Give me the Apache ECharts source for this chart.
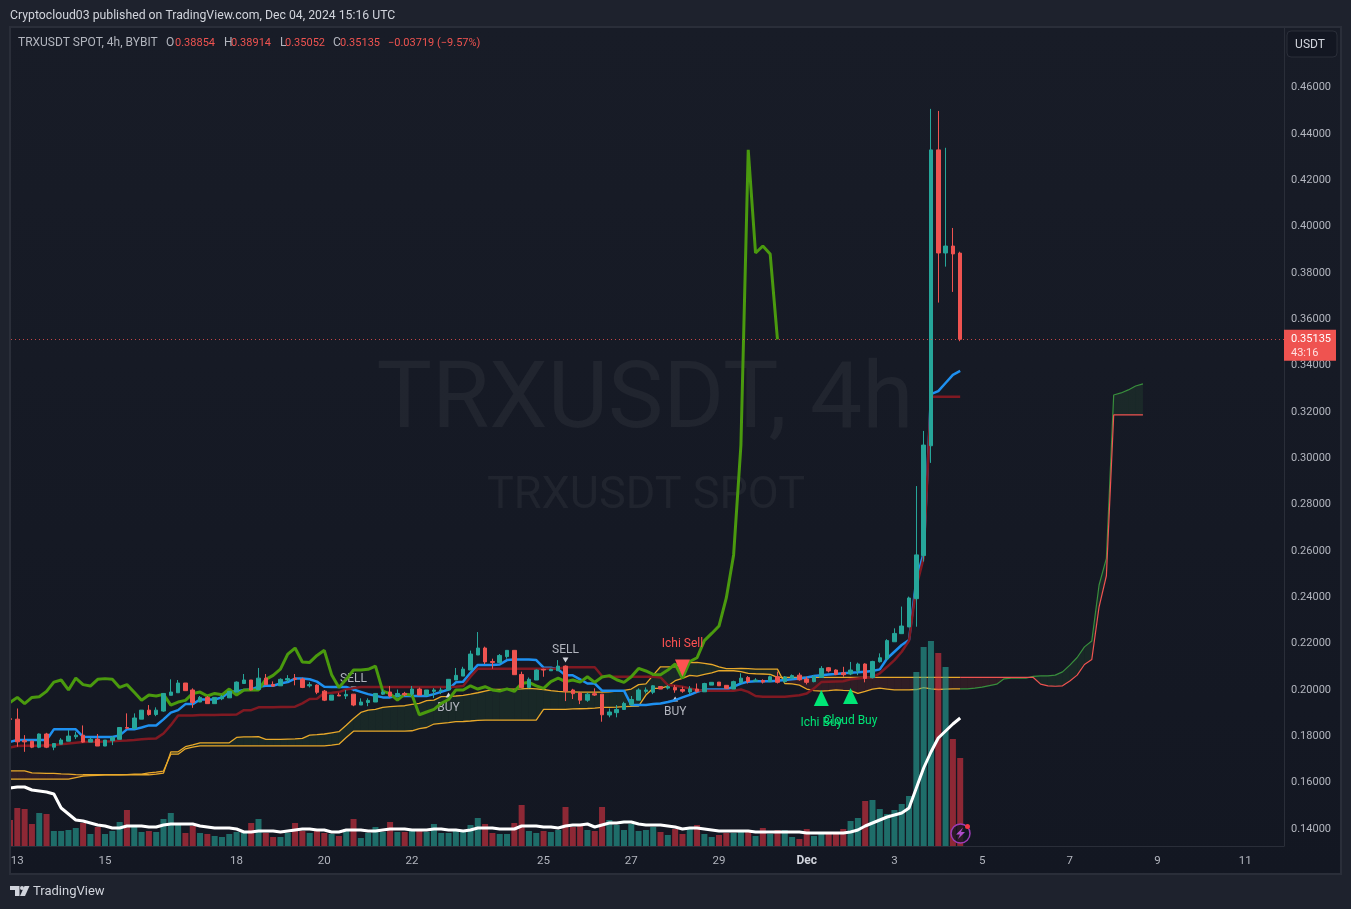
<!DOCTYPE html>
<html>
<head>
<meta charset="utf-8">
<title>TRXUSDT SPOT, 4h</title>
<script src="https://cdn.jsdelivr.net/npm/echarts@6/dist/echarts.min.js"></script>
<style>
  html, body { margin: 0; padding: 0; background: #1e222d; }
  #main { width: 1351px; height: 909px; }
</style>
</head>
<body>
<div id="main"></div>
<script>
// candles, ten to a row, bar 0 sits half hidden on the left edge
const opens = [
  .1876,.1874,.1781,.1779,.1753,.1810,.1753,.1766,.1779,.1798,
  .1805,.1775,.1788,.1758,.1781,.1787,.1838,.1834,.1874,.1913,
  .1894,.1909,.1977,.1988,.2030,.2000,.1948,.1968,.1941,.1962,
  .1966,.1991,.2028,.2043,.2002,.2051,.2024,.2018,.2043,.2050,
  .2047,.2018,.2021,.1995,.1956,.1978,.1974,.1982,.1935,.1946,
  .1948,.1982,.1991,.1974,.1985,.1982,.2004,.1977,.1994,.1997,
  .2000,.2043,.2060,.2086,.2151,.2181,.2123,.2118,.2144,.2171,
  .2067,.2011,.2043,.2089,.2083,.2083,.2103,.2000,.1987,.1956,
  .1984,.1982,.1892,.1902,.1916,.1936,.1956,.1994,.1990,.2015,
  .2008,.2011,.2002,.1991,.2004,.1992,.2021,.2034,.2020,.2004,
  .2031,.2054,.2038,.2041,.2036,.2057,.2036,.2051,.2064,.2047,
  .2036,.2054,.2096,.2086,.2074,.2069,.2083,.2112,.2053,.2122,
  .2134,.2208,.2243,.2272,.2394,.2580,.3054,.4331,.3886,.3916,.38854
];
const closes = [
  .1873,.1776,.1776,.1753,.1810,.1753,.1769,.1784,.1801,.1805,
  .1775,.1787,.1758,.1784,.1795,.1838,.1835,.1879,.1913,.1894,
  .1913,.1985,.1991,.2030,.1997,.1946,.1968,.1941,.1968,.1971,
  .1994,.2034,.2043,.2000,.2051,.2023,.2017,.2046,.2049,.2046,
  .2011,.2023,.1990,.1956,.1978,.1974,.1981,.1935,.1948,.1955,
  .1985,.1991,.1974,.1985,.1979,.2004,.1978,.2000,.2000,.2000,
  .2046,.2063,.2090,.2155,.2181,.2121,.2119,.2149,.2171,.2066,
  .2011,.2046,.2086,.2086,.2089,.2103,.1995,.1984,.1956,.1982,
  .1978,.1893,.1905,.1916,.1942,.1959,.2000,.2000,.2018,.2004,
  .2014,.2000,.1995,.2005,.1994,.2028,.2033,.2018,.2007,.2036,
  .2051,.2036,.2043,.2034,.2057,.2033,.2056,.2062,.2044,.2033,
  .2057,.2093,.2082,.2067,.2066,.2086,.2112,.2050,.2123,.2139,
  .2213,.2244,.2276,.2397,.2583,.3057,.4331,.3886,.3916,.3882,.35135
];
const lows = [
  .1848,.1755,.1733,.1749,.1749,.1749,.1740,.1766,.1779,.1788,
  .1772,.1775,.1758,.1758,.1762,.1787,.1834,.1831,.1874,.1889,
  .1887,.1906,.1977,.1988,.1997,.1923,.1948,.1941,.1941,.1956,
  .1966,.1991,.2026,.1997,.2000,.2021,.2014,.2018,.2034,.2020,
  .2008,.2011,.1982,.1952,.1956,.1974,.1961,.1930,.1935,.1930,
  .1948,.1978,.1968,.1968,.1974,.1974,.1978,.1977,.1965,.1982,
  .1997,.2043,.2060,.2086,.2151,.2112,.2092,.2118,.2135,.2066,
  .2007,.2007,.2043,.2057,.2083,.2083,.1952,.1961,.1939,.1949,
  .1974,.1863,.1882,.1882,.1916,.1936,.1956,.1985,.1982,.2004,
  .2002,.1988,.1988,.1982,.1988,.1992,.2021,.2018,.2007,.2004,
  .2031,.2028,.2038,.2028,.2036,.2028,.2031,.2051,.2040,.2024,
  .2033,.2054,.2076,.2064,.2057,.2064,.2064,.2033,.2050,.2118,
  .2134,.2208,.2243,.2272,.2273,.2554,.2980,.3672,.3827,.3718,.35052
];
const highs = [
  .1902,.1920,.1805,.1781,.1812,.1815,.1769,.1792,.1827,.1820,
  .1847,.1795,.1810,.1784,.1801,.1838,.1899,.1899,.1913,.1935,
  .1925,.1985,.2046,.2043,.2030,.2007,.1974,.1974,.1968,.1978,
  .1994,.2037,.2069,.2043,.2095,.2069,.2037,.2050,.2064,.2069,
  .2053,.2034,.2024,.2000,.1978,.1988,.2000,.1982,.1964,.1964,
  .1985,.2002,.2017,.2002,.1992,.2017,.2010,.2000,.2008,.2010,
  .2046,.2095,.2100,.2170,.2250,.2187,.2135,.2155,.2171,.2171,
  .2079,.2054,.2089,.2092,.2092,.2129,.2106,.2005,.1992,.1988,
  .2007,.1982,.1920,.1935,.1949,.1974,.2007,.2011,.2021,.2015,
  .2021,.2021,.2014,.2017,.2028,.2031,.2033,.2034,.2020,.2040,
  .2072,.2060,.2051,.2046,.2062,.2079,.2060,.2067,.2074,.2057,
  .2064,.2103,.2099,.2089,.2100,.2121,.2118,.2115,.2126,.2158,
  .2219,.2266,.2360,.2403,.2880,.3118,.4508,.4499,.4340,.3994,.38914
];
const volumes = [
  26,38,37,22,33,32,15,15,16,18,
  23,12,19,12,15,24,36,19,14,15,
  14,27,33,21,13,20,13,12,10,9,
  12,14,13,23,27,13,9,9,13,23,
  15,13,16,13,12,10,17,27,8,13,
  19,14,24,14,14,16,16,14,22,13,
  13,15,14,21,28,22,13,12,12,23,
  41,15,13,15,14,16,39,19,21,16,
  15,39,26,21,16,22,15,16,19,14,
  11,17,12,19,21,12,9,11,13,13,
  16,16,10,18,12,16,16,9,7,17,
  10,12,13,13,17,25,28,45,46,37,
  32,36,42,50,174,199,205,193,179,107,88
];
const volumeAverage = [
  58,59,59,56,55,54,52,38,32,26,
  25,23,21,20,18,18,20,20,20,19,
  19,21,22,22,22,22,20,19,18,18,
  18,17,14,14,15,15,15,14,15,16,
  17,17,16,16,14,14,16,16,16,15,
  15,16,17,17,17,16,16,16,17,17,
  16,16,15,16,18,18,18,17,17,17,
  20,20,20,19,19,18,20,21,21,22,
  19,21,23,23,24,24,22,21,21,21,
  20,19,17,18,18,17,16,15,15,15,
  15,15,14,14,14,14,14,14,14,13,
  13,13,13,13,13,14,16,20,23,26,
  29,31,33,38,58,78,94,108,115,122,128
];

// ichimoku lines
const conversionLine = [
  .1776,.1784,.1784,.1784,.1784,.1784,.1830,.1830,.1830,.1830,
  .1798,.1797,.1797,.1797,.1797,.1804,.1830,.1830,.1838,.1847,
  .1847,.1873,.1902,.1913,.1939,.1939,.1959,.1959,.1959,.1968,
  .1991,.1994,.2000,.2002,.2014,.2018,.2018,.2028,.2034,.2049,
  .2049,.2046,.2036,.2014,.2013,.2013,.2013,.2002,.1992,.1982,
  .1975,.1968,.1968,.1974,.1974,.1974,.1974,.1974,.1982,.1992,
  .2002,.2033,.2036,.2074,.2108,.2108,.2108,.2110,.2129,.2132,
  .2132,.2132,.2129,.2096,.2096,.2089,.2063,.2063,.2046,.2028,
  .2028,.1997,.1997,.1997,.1997,.1935,.1935,.1935,.1939,.1942,
  .1948,.1956,.1968,.1979,.1992,.2002,.2002,.2002,.2002,.2014,
  .2028,.2036,.2038,.2038,.2038,.2040,.2043,.2046,.2050,.2054,
  .2060,.2064,.2067,.2069,.2072,.2074,.2076,.2079,.2082,.2089,
  .2136,.2165,.2194,.2216,.2475,.2591,.3277,.3290,.3325,.3360,.3377
];
const baseLine = [
  .1752,.1758,.1759,.1759,.1759,.1761,.1763,.1766,.1769,.1772,
  .1775,.1776,.1776,.1778,.1779,.1781,.1782,.1784,.1787,.1789,
  .1791,.1812,.1848,.1890,.1890,.1890,.1892,.1892,.1892,.1893,
  .1893,.1894,.1913,.1913,.1925,.1925,.1925,.1926,.1926,.1928,
  .1942,.1961,.1962,.1987,.1988,.1991,.2002,.2008,.2013,.2013,
  .2013,.2013,.2013,.2013,.2013,.2013,.2013,.2013,.2013,.2013,
  .2013,.2014,.2017,.2057,.2092,.2092,.2092,.2092,.2092,.2092,
  .2092,.2092,.2092,.2092,.2092,.2092,.2098,.2098,.2098,.2098,
  .2098,.2060,.2057,.2057,.2057,.2057,.2057,.2057,.2057,.2054,
  .2021,.2018,.2014,.2007,.2000,.1997,.1997,.1997,.1997,.1997,
  .2002,.1992,.1974,.1971,.1971,.1971,.1971,.1974,.1977,.1985,
  .2007,.2034,.2036,.2037,.2038,.2046,.2050,.2053,.2054,.2072,
  .2100,.2129,.2165,.2213,.2446,.2570,.3265,.3265,.3265,.3265,.3265
];
const spanA = [
  .1615,.1615,.1615,.1615,.1615,.1615,.1615,.1615,.1615,.1622,
  .1628,.1630,.1632,.1634,.1634,.1634,.1634,.1634,.1634,.1634,
  .1637,.1641,.1733,.1733,.1755,.1763,.1772,.1772,.1772,.1772,
  .1772,.1795,.1798,.1798,.1799,.1787,.1787,.1787,.1788,.1789,
  .1791,.1805,.1807,.1810,.1815,.1820,.1848,.1877,.1903,.1913,
  .1916,.1925,.1928,.1930,.1932,.1938,.1942,.1954,.1956,.1971,
  .1972,.1974,.1977,.1982,.1988,.1995,.2002,.2002,.2004,.2004,
  .2005,.2007,.2005,.2002,.1997,.1994,.1992,.1992,.1991,.1991,
  .1991,.1991,.1992,.1995,.1998,.2004,.2023,.2026,.2064,.2100,
  .2100,.2100,.2115,.2118,.2119,.2115,.2110,.2100,.2092,.2092,
  .2093,.2092,.2090,.2090,.2090,.2090,.2028,.2026,.2021,.2004,
  .1997,.1995,.1997,.2000,.1998,.1997,.1985,.1994,.2004,.2008,
  .2004,.2000,.2000,.2000,.2002,.2010,.2005,.2002,.2004,.2005,.2005,
  .2005,.2008,.2012,.2019,.2025,.2048,.2051,.2051,.2051,.2059,
  .2061,.2061,.2064,.2078,.2107,.2140,.2186,.2211,.2453,.2568,
  .3273,.3282,.3295,.3312,.3321
];
const spanB = [
  .1651,.1651,.1651,.1642,.1641,.1640,.1640,.1638,.1637,.1635,
  .1634,.1634,.1634,.1634,.1634,.1634,.1635,.1637,.1637,.1642,
  .1645,.1650,.1723,.1723,.1746,.1753,.1759,.1759,.1759,.1759,
  .1759,.1759,.1759,.1759,.1759,.1759,.1759,.1759,.1759,.1759,
  .1759,.1759,.1759,.1759,.1762,.1766,.1795,.1822,.1822,.1822,
  .1822,.1822,.1822,.1822,.1822,.1824,.1833,.1838,.1853,.1856,
  .1859,.1863,.1864,.1866,.1869,.1870,.1870,.1870,.1870,.1870,
  .1870,.1870,.1870,.1916,.1916,.1916,.1916,.1918,.1919,.1920,
  .1922,.1925,.1925,.1926,.1928,.1929,.1930,.1978,.2007,.2007,
  .2017,.2040,.2050,.2063,.2060,.2067,.2074,.2083,.2083,.2083,
  .2079,.2072,.2070,.2069,.2067,.2054,.2054,.2054,.2054,.2054,
  .2054,.2054,.2054,.2054,.2054,.2054,.2054,.2054,.2054,.2054,
  .2054,.2054,.2054,.2054,.2054,.2054,.2054,.2054,.2054,.2054,.2054,
  .2054,.2054,.2054,.2054,.2054,.2054,.2054,.2054,.2054,.2054,
  .2025,.2018,.2016,.2018,.2039,.2064,.2110,.2131,.2359,.2493,
  .3187,.3187,.3187,.3187,.3187
];
const laggingShift = 25; // lagging span is the close moved back this many bars

// signals on the chart
const signalBars = [47, 60, 76, 91, 92, 111, 115];
const signalPrices = [.2004, .1978, .2129, .1961, .2095, .1965, .1974];
const signalTexts = ['SELL', 'BUY', 'SELL', 'BUY', 'Ichi Sell', 'Ichi Buy', 'Cloud Buy'];
const signalKinds = ['sell', 'buy', 'sell', 'buy', 'ichiSell', 'ichiBuy', 'ichiBuy'];

// axes
const priceTicks = [.14, .16, .18, .20, .22, .24, .26, .28, .30, .32, .34, .36, .38, .40, .42, .44, .46];
const dayTicks = [1, 13, 31, 43, 55, 73, 85, 97, 109, 121, 133, 145, 157, 169];
const dayLabels = ['13', '15', '18', '20', '22', '25', '27', '29', 'Dec', '3', '5', '7', '9', '11'];
const lastPrice = 0.35135;

const upColor = '#26a69a';
const downColor = '#ef5350';
const textColor = '#b2b5be';
const frameColor = '#2a2e39';
const pageColor = '#1e222d';
const uiFont = 'Roboto';

const lastPast = opens.length - 1;
const pairs = (values, from = 0) => values.map((v, k) => [k + from, v]);

// fill between the two spans, one quad per bar, coloured by which span is on top
const renderCloud = (params, api) => {
  const k = params.dataIndex;
  if (k >= spanA.length - 1) return null;
  const corners = [
    [k, spanA[k]], [k + 1, spanA[k + 1]],
    [k + 1, spanB[k + 1]], [k, spanB[k]],
  ];
  const isUp = spanA[k] + spanA[k + 1] >= spanB[k] + spanB[k + 1];
  return {
    type: 'polygon',
    shape: { points: corners.map((c) => api.coord(c)) },
    style: { fill: isUp ? 'rgba(67,160,71,0.12)' : 'rgba(244,67,54,0.12)' },
  };
};

const plainLine = (data, color, width, z) => ({
  type: 'line',
  data,
  z,
  silent: true,
  symbol: 'none',
  lineStyle: { color, width },
});

const signalStyles = {
  sell: { symbolSize: [6, 5], rotate: 180, color: '#d1d4dc', labelColor: textColor, position: 'top', distance: 2, z: 2 },
  buy: { symbolSize: [6, 5], rotate: 0, color: '#d1d4dc', labelColor: textColor, position: 'bottom', distance: 4, z: 2 },
  ichiSell: { symbolSize: [15, 17], rotate: 180, color: '#ff5252', labelColor: '#ff5252', position: 'top', distance: 9, z: 6 },
  ichiBuy: { symbolSize: [15, 16], rotate: 0, color: '#00e676', labelColor: '#00e676', position: 'bottom', distance: 11, z: 6 },
};

const signalSeries = signalBars.map((bar, k) => {
  const style = signalStyles[signalKinds[k]];
  return {
    type: 'scatter',
    data: [[bar, signalPrices[k]]],
    z: style.z,
    silent: true,
    symbol: 'triangle',
    symbolSize: style.symbolSize,
    symbolRotate: style.rotate,
    itemStyle: { color: style.color, opacity: 1 },
    label: {
      show: true,
      formatter: signalTexts[k],
      position: style.position,
      distance: style.distance,
      color: style.labelColor,
      fontFamily: uiFont,
      fontSize: 12,
    },
  };
});

// header figures, the numbers run narrower than the words
const headerParts = [
  ['TRXUSDT SPOT, 4h, BYBIT', 18, textColor, 12],
  ['O', 166, textColor, 12], ['0.38854', 175, downColor, 11],
  ['H', 224, textColor, 12], ['0.38914', 231, downColor, 11],
  ['L', 280, textColor, 12], ['0.35052', 285, downColor, 11],
  ['C', 333, textColor, 12], ['0.35135', 340, downColor, 11],
  ['\u22120.03719 (\u22129.57%)', 388, downColor, 11],
];

const headerText = headerParts.map(([text, x, color, size]) => ({
  type: 'text',
  z: 100,
  x,
  y: 43,
  style: { text, fill: color, font: `${size}px ${uiFont}`, textVerticalAlign: 'middle' },
}));

const decorations = [
  // page panel behind the plot
  {
    type: 'rect',
    z: -1,
    shape: { x: 10, y: 27, width: 1331, height: 847 },
    style: {
      stroke: frameColor,
      lineWidth: 2,
      fill: {
        type: 'linear', x: 0, y: 0, x2: 0, y2: 1,
        colorStops: [{ offset: 0, color: '#181c27' }, { offset: 1, color: '#131722' }],
      },
    },
  },
  // bar 0 pokes past the plot edge, cover it with page colour and redraw the frame
  {
    type: 'rect', z: 99,
    shape: { x: 0, y: 700, width: 10, height: 174 },
    style: { fill: pageColor },
  },
  {
    type: 'rect', z: 99,
    shape: { x: 9, y: 700, width: 2, height: 174 },
    style: { fill: frameColor },
  },
  {
    type: 'text', z: 100, x: 10, y: 16,
    style: { text: 'Cryptocloud03 published on TradingView.com, Dec 04, 2024 15:16 UTC', fill: '#d1d4dc', font: `12.25px ${uiFont}`, textVerticalAlign: 'middle' },
  },
  // watermark
  {
    type: 'text', z: 0, x: 645, y: 404,
    style: { text: 'TRXUSDT, 4h', fill: 'rgba(178,181,190,0.07)', font: `93px ${uiFont}`, textAlign: 'center', textVerticalAlign: 'middle' },
  },
  {
    type: 'text', z: 0, x: 646, y: 497,
    style: { text: 'TRXUSDT SPOT', fill: 'rgba(178,181,190,0.07)', font: `45px ${uiFont}`, textAlign: 'center', textVerticalAlign: 'middle' },
  },
  // currency button
  {
    type: 'rect', z: 100,
    shape: { x: 1287, y: 31, width: 50, height: 26, r: 4 },
    style: { fill: '#131722', stroke: frameColor, lineWidth: 1 },
  },
  {
    type: 'text', z: 101, x: 1310, y: 45,
    style: { text: 'USDT', fill: '#d1d4dc', font: `12px ${uiFont}`, textAlign: 'center', textVerticalAlign: 'middle' },
  },
  // tradingview logo
  {
    type: 'polygon', z: 100,
    shape: { points: [[10, 886], [19.5, 886], [19.5, 896], [15, 896], [15, 890], [10, 890]] },
    style: { fill: '#d1d4dc' },
  },
  {
    type: 'polygon', z: 100,
    shape: { points: [[24.5, 886], [29.5, 886], [25, 896], [20, 896]] },
    style: { fill: '#d1d4dc' },
  },
  { type: 'circle', z: 100, shape: { cx: 22, cy: 888, r: 2 }, style: { fill: '#d1d4dc' } },
  {
    type: 'text', z: 100, x: 33, y: 892,
    style: { text: 'TradingView', fill: '#d1d4dc', font: `13px ${uiFont}`, textVerticalAlign: 'middle' },
  },
  // alert badge
  {
    type: 'circle', z: 100,
    shape: { cx: 960.5, cy: 833.5, r: 9.5 },
    style: { fill: 'rgba(19,23,34,0.8)', stroke: '#9c3bb5', lineWidth: 1.5 },
  },
  {
    type: 'polygon', z: 101,
    shape: { points: [[963, 827.5], [956, 834.5], [960, 834.5], [958, 839], [965, 832], [961, 832]] },
    style: { fill: '#b04ccc' },
  },
  { type: 'circle', z: 101, shape: { cx: 967.5, cy: 826.5, r: 2.5 }, style: { fill: '#f23645' } },
];

const myChart = echarts.init(document.getElementById('main'));

const option = {
  animation: false,
  backgroundColor: pageColor,
  textStyle: { fontFamily: uiFont },
  grid: { left: 11, right: 67, top: 28, bottom: 63 },
  xAxis: {
    type: 'value',
    min: 0.137,
    max: 174.3,
    splitLine: { show: false },
    axisTick: { show: false },
    axisLine: { show: true, onZero: false, lineStyle: { color: frameColor } },
    axisLabel: {
      customValues: dayTicks,
      color: textColor,
      fontSize: 11.5,
      margin: 9,
      hideOverlap: false,
      formatter: (value) => {
        const label = dayLabels[dayTicks.indexOf(value)];
        return label === 'Dec' ? `{month|${label}}` : label;
      },
      rich: { month: { fontWeight: 'bold', fontSize: 12, color: '#d1d4dc' } },
    },
  },
  yAxis: [
    {
      type: 'value',
      position: 'right',
      min: 0.13266,
      max: 0.4857,
      splitLine: { show: false },
      axisTick: { show: false },
      axisLine: { show: true, onZero: false, lineStyle: { color: frameColor } },
      axisLabel: {
        customValues: priceTicks,
        color: textColor,
        fontSize: 11,
        margin: 7,
        padding: [4, 0, 0, 0],
        formatter: (value) => value.toFixed(5),
      },
    },
    // volume pane shares the plot, bars stand on the bottom edge
    { type: 'value', show: false, min: 0, max: 818, splitLine: { show: false } },
  ],
  graphic: { elements: [...decorations, ...headerText] },
  series: [
    {
      type: 'custom',
      z: 1,
      silent: true,
      clip: true,
      renderItem: renderCloud,
      data: spanA.map((a, k) => [k, a, spanB[k]]),
    },
    plainLine(pairs(spanA.slice(0, lastPast + 1)), '#e8a82a', 1.3, 2),
    plainLine(pairs(spanB.slice(0, lastPast + 1)), '#e8a82a', 1.3, 2),
    plainLine(pairs(spanA.slice(lastPast), lastPast), '#388e3c', 1.2, 2),
    plainLine(pairs(spanB.slice(lastPast), lastPast), '#ef5350', 1.2, 2),
    {
      ...plainLine(pairs(conversionLine), '#1e90f0', 2.5, 3),
      markLine: {
        silent: true,
        symbol: 'none',
        animation: false,
        precision: 5,
        data: [{ yAxis: lastPrice }],
        lineStyle: { color: 'rgba(239,83,80,0.8)', type: [1, 3], width: 1 },
        label: {
          show: true,
          position: 'end',
          distance: 0,
          offset: [0, 6],
          formatter: '{price|0.35135}\n{clock|43:16}',
          backgroundColor: downColor,
          padding: [2, 5, 1, 7],
          rich: {
            price: { color: '#ffffff', fontSize: 11, lineHeight: 14 },
            clock: { color: '#ffe0e0', fontSize: 11, lineHeight: 14 },
          },
        },
      },
    },
    plainLine(pairs(baseLine), '#801922', 2.5, 3),
    plainLine(pairs(closes.slice(laggingShift)), '#4a9a0e', 3, 3),
    ...signalSeries,
    {
      type: 'candlestick',
      z: 4,
      silent: true,
      barWidth: 4,
      data: opens.map((open, k) => [k, open, closes[k], lows[k], highs[k]]),
      itemStyle: {
        color: upColor,
        color0: downColor,
        borderColor: upColor,
        borderColor0: downColor,
        borderWidth: 1,
      },
    },
    {
      type: 'bar',
      yAxisIndex: 1,
      z: 5,
      silent: true,
      barWidth: 6,
      data: volumes.map((volume, k) => ({
        value: [k, volume],
        itemStyle: { color: closes[k] >= opens[k] ? 'rgba(38,166,154,0.6)' : 'rgba(242,54,69,0.55)' },
      })),
    },
    { ...plainLine(pairs(volumeAverage), '#ffffff', 3, 6), yAxisIndex: 1 },
  ],
};

myChart.setOption(option);
</script>
</body>
</html>
